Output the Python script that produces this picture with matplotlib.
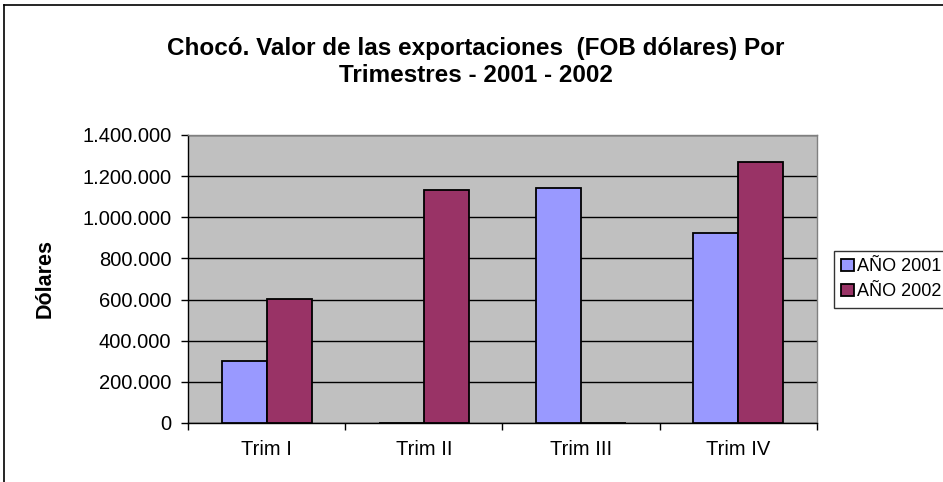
import numpy as np
import matplotlib
matplotlib.use("Agg")
import matplotlib.pyplot as plt
from matplotlib.lines import Line2D
from matplotlib.ticker import FuncFormatter, FixedLocator

plt.rcParams['font.family'] = ['Liberation Sans', 'DejaVu Sans']

# data
trimestres = ["Trim I", "Trim II", "Trim III", "Trim IV"]
series_names = ["AÑO 2001", "AÑO 2002"]
valores_2001 = [302000, 0, 1142000, 925000]
valores_2002 = [602000, 1132000, 0, 1270000]
y_ticks = [0, 200000, 400000, 600000, 800000, 1000000, 1200000, 1400000]

color_2001 = "#9999FF"
color_2002 = "#993366"

fig = plt.figure(figsize=(9.43, 4.82), dpi=100)
fig.patch.set_facecolor("white")

# chart-area border (only left and top visible in the crop)
fig.add_artist(Line2D([4 / 943, 4 / 943], [0, 1 - 5 / 482], color="black", lw=1.2,
                      transform=fig.transFigure))
fig.add_artist(Line2D([4 / 943, 1], [1 - 5 / 482, 1 - 5 / 482], color="black", lw=1.2,
                      transform=fig.transFigure))

ax = fig.add_axes([188 / 943, 1 - 423 / 482, (817 - 188) / 943, (423 - 135) / 482])
ax.set_facecolor("#C0C0C0")

x = np.arange(len(trimestres))
w = 1 / 3.5  # Excel gap width 150%
b1 = ax.bar(x - w / 2, valores_2001, w, color=color_2001, edgecolor="black",
            linewidth=1.3, zorder=3, label=series_names[0])
b2 = ax.bar(x + w / 2, valores_2002, w, color=color_2002, edgecolor="black",
            linewidth=1.3, zorder=3, label=series_names[1])

ax.set_xlim(-0.5, len(trimestres) - 0.5)
ax.set_ylim(0, 1400000)
ax.set_yticks(y_ticks)
ax.yaxis.set_major_formatter(FuncFormatter(lambda v, p: f"{int(v):,}".replace(",", ".")))
ax.yaxis.grid(True, color="black", linewidth=1.0, zorder=1)
ax.set_axisbelow(True)

ax.set_xticks(x)
ax.set_xticklabels(trimestres)
ax.xaxis.set_minor_locator(FixedLocator(np.arange(-0.5, len(trimestres), 1.0)))
ax.tick_params(axis="x", which="major", length=0, pad=12, labelsize=14.5)
ax.tick_params(axis="x", which="minor", length=5, width=1, direction="out")
ax.tick_params(axis="y", length=5, width=1, direction="out", labelsize=14.5, pad=7)

for s in ["top", "right"]:
    ax.spines[s].set_color("#808080")
    ax.spines[s].set_linewidth(1.0)
for s in ["left", "bottom"]:
    ax.spines[s].set_color("black")
    ax.spines[s].set_linewidth(1.0)

fig.text(45 / 943, 1 - 279 / 482, "Dólares", rotation=90, ha="center", va="center",
         fontsize=15.5, fontweight="bold")

fig.text(476 / 943, 1 - 62 / 482,
         "Chocó. Valor de las exportaciones  (FOB dólares) Por\nTrimestres - 2001 - 2002",
         ha="center", va="center", fontsize=17.5, fontweight="bold", linespacing=1.25)

leg = fig.legend(handles=[b1, b2], labels=series_names, loc="upper left",
                 bbox_to_anchor=(834 / 943, 1 - 251 / 482), fontsize=13,
                 frameon=True, fancybox=False, shadow=False, borderpad=0.4,
                 handlelength=0.7, handleheight=0.7, handletextpad=0.2,
                 labelspacing=0.45, borderaxespad=0)
leg.get_frame().set_edgecolor("black")
leg.get_frame().set_linewidth(1.0)

fig.savefig("out.png", dpi=100)
